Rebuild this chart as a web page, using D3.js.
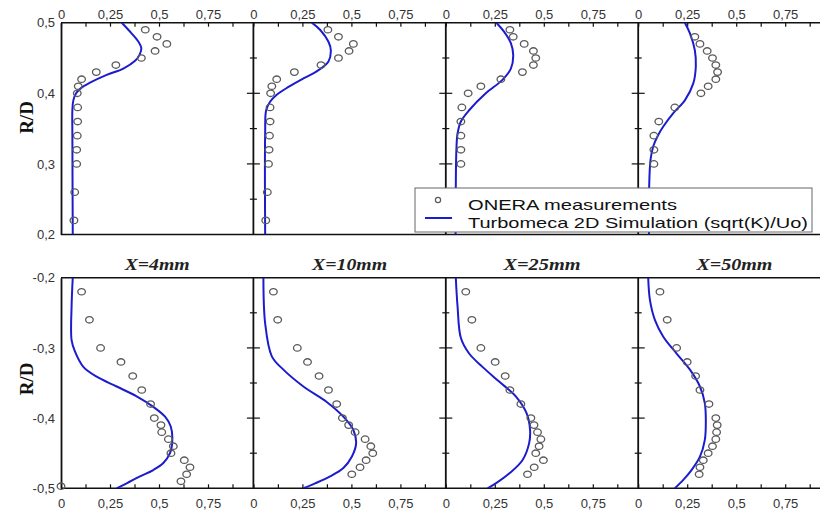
<!DOCTYPE html>
<html><head><meta charset="utf-8">
<script src="https://cdn.jsdelivr.net/npm/d3@7"></script>
<style>body{margin:0;background:#fff}svg{display:block}</style>
</head><body><svg id="c" width="820" height="512"></svg>
<script>
// ---------- DATA ----------
const titles = ["X=4mm", "X=10mm", "X=25mm", "X=50mm"];
const xTickValues = [0, 0.125, 0.25, 0.375, 0.5, 0.625, 0.75, 0.875];
const xTickLabels = {0: "0", 0.25: "0,25", 0.5: "0,5", 0.75: "0,75"};
const yTicksTop = [0.2, 0.3, 0.4, 0.5];
const yTickLabelsTop = ["0,2", "0,3", "0,4", "0,5"];
const yTicksBottom = [-0.5, -0.4, -0.3, -0.2];
const yTickLabelsBottom = ["-0,5", "-0,4", "-0,3", "-0,2"];
const yMinorTop = [0.2, 0.25, 0.3, 0.35, 0.4, 0.45, 0.5];
const yMinorBottom = [-0.5, -0.45, -0.4, -0.35, -0.3, -0.25, -0.2];

// measurements: [sqrt(K)/Uo, R/D]
const measTop4 = [[0.43,0.49],[0.49,0.48],[0.54,0.47],[0.48,0.46],[0.41,0.45],[0.28,0.44],[0.18,0.43],[0.105,0.42],[0.088,0.41],[0.083,0.40],[0.085,0.38],[0.085,0.36],[0.083,0.34],[0.08,0.32],[0.08,0.30],[0.07,0.26],[0.066,0.22]];
const measTop10 = [[0.38,0.49],[0.434,0.48],[0.51,0.47],[0.488,0.46],[0.434,0.45],[0.345,0.44],[0.209,0.43],[0.119,0.42],[0.094,0.41],[0.088,0.40],[0.085,0.38],[0.085,0.36],[0.082,0.34],[0.08,0.32],[0.077,0.30],[0.071,0.26],[0.063,0.22]];
const measTop25 = [[0.327,0.49],[0.344,0.48],[0.40,0.47],[0.447,0.46],[0.459,0.45],[0.447,0.44],[0.391,0.43],[0.281,0.42],[0.179,0.41],[0.114,0.40],[0.082,0.38],[0.077,0.36],[0.077,0.34],[0.077,0.32],[0.077,0.30]];
const measTop50 = [[0.289,0.48],[0.315,0.47],[0.352,0.46],[0.379,0.45],[0.396,0.44],[0.405,0.43],[0.396,0.42],[0.357,0.41],[0.32,0.40],[0.187,0.38],[0.105,0.36],[0.08,0.34],[0.08,0.32],[0.08,0.30]];

const simTop4 = [[0.31,0.5],[0.36,0.485],[0.395,0.473],[0.41,0.464],[0.40,0.454],[0.378,0.446],[0.318,0.435],[0.233,0.426],[0.148,0.415],[0.105,0.408],[0.077,0.40],[0.063,0.39],[0.058,0.376],[0.058,0.343],[0.06,0.2]];
const simTop10 = [[0.298,0.5],[0.34,0.49],[0.383,0.473],[0.395,0.461],[0.383,0.445],[0.323,0.431],[0.255,0.421],[0.179,0.409],[0.119,0.398],[0.085,0.388],[0.065,0.376],[0.06,0.343],[0.06,0.2]];
const simTop25 = [[0.258,0.5],[0.298,0.487],[0.332,0.471],[0.344,0.454],[0.332,0.435],[0.289,0.419],[0.204,0.40],[0.119,0.376],[0.077,0.36],[0.06,0.343],[0.054,0.32],[0.051,0.268],[0.05,0.2]];
const simTop50 = [[0.238,0.5],[0.264,0.485],[0.289,0.461],[0.294,0.438],[0.281,0.414],[0.238,0.39],[0.179,0.372],[0.128,0.353],[0.102,0.341],[0.077,0.325],[0.063,0.306],[0.056,0.268],[0.055,0.2]];

const measBot4 = [[0.105,-0.22],[0.145,-0.26],[0.202,-0.30],[0.306,-0.32],[0.366,-0.34],[0.412,-0.36],[0.457,-0.38],[0.476,-0.40],[0.51,-0.41],[0.514,-0.42],[0.548,-0.43],[0.573,-0.44],[0.561,-0.45],[0.629,-0.46],[0.658,-0.47],[0.641,-0.48],[0.612,-0.49],[0.0,-0.497]];
const measBot10 = [[0.102,-0.22],[0.124,-0.26],[0.224,-0.30],[0.276,-0.32],[0.335,-0.34],[0.383,-0.36],[0.425,-0.38],[0.454,-0.40],[0.486,-0.41],[0.519,-0.42],[0.57,-0.43],[0.599,-0.44],[0.609,-0.45],[0.575,-0.46],[0.544,-0.47],[0.502,-0.48]];
const measBot25 = [[0.102,-0.22],[0.133,-0.26],[0.179,-0.30],[0.252,-0.32],[0.303,-0.34],[0.327,-0.36],[0.383,-0.38],[0.434,-0.40],[0.45,-0.41],[0.468,-0.42],[0.485,-0.43],[0.476,-0.44],[0.459,-0.45],[0.498,-0.46],[0.451,-0.47],[0.417,-0.48]];
const measBot50 = [[0.111,-0.22],[0.148,-0.26],[0.196,-0.30],[0.25,-0.32],[0.293,-0.34],[0.315,-0.36],[0.361,-0.38],[0.396,-0.40],[0.403,-0.41],[0.40,-0.42],[0.396,-0.43],[0.379,-0.44],[0.357,-0.45],[0.332,-0.46],[0.315,-0.47],[0.311,-0.48]];

const simBot4 = [[0.06,-0.2],[0.054,-0.241],[0.054,-0.289],[0.071,-0.305],[0.114,-0.327],[0.182,-0.341],[0.284,-0.355],[0.386,-0.369],[0.471,-0.384],[0.531,-0.398],[0.56,-0.412],[0.568,-0.431],[0.556,-0.45],[0.522,-0.464],[0.471,-0.474],[0.403,-0.483],[0.335,-0.493],[0.284,-0.5]];
const simBot10 = [[0.051,-0.2],[0.06,-0.265],[0.094,-0.312],[0.153,-0.331],[0.255,-0.355],[0.374,-0.377],[0.459,-0.398],[0.51,-0.417],[0.524,-0.436],[0.502,-0.455],[0.459,-0.471],[0.391,-0.483],[0.315,-0.493],[0.255,-0.5]];
const simBot25 = [[0.051,-0.2],[0.06,-0.241],[0.077,-0.286],[0.119,-0.308],[0.187,-0.327],[0.272,-0.348],[0.357,-0.369],[0.412,-0.393],[0.43,-0.417],[0.425,-0.436],[0.391,-0.46],[0.323,-0.479],[0.255,-0.493],[0.213,-0.5]];
const simBot50 = [[0.051,-0.2],[0.06,-0.232],[0.085,-0.26],[0.128,-0.284],[0.196,-0.308],[0.264,-0.331],[0.315,-0.355],[0.34,-0.379],[0.345,-0.403],[0.34,-0.431],[0.315,-0.455],[0.272,-0.474],[0.23,-0.488],[0.187,-0.5]];

const legendLabels = ["ONERA measurements", "Turbomeca 2D Simulation (sqrt(K)/Uo)"];

// ---------- LAYOUT ----------
const svg = d3.select("#c");
const panelLeft0 = 61, panelW = 192.4, unitW = 196; // px per 1.0 of sqrt(K)/Uo
const rows = [
  {top: 22.7, bottom: 234.5, domain: [0.2, 0.5], ticks: yTicksTop, labels: yTickLabelsTop, minor: yMinorTop,
   meas: [measTop4, measTop10, measTop25, measTop50], sim: [simTop4, simTop10, simTop25, simTop50], xAxisTop: true},
  {top: 277.7, bottom: 488.3, domain: [-0.5, -0.2], ticks: yTicksBottom, labels: yTickLabelsBottom, minor: yMinorBottom,
   meas: [measBot4, measBot10, measBot25, measBot50], sim: [simBot4, simBot10, simBot25, simBot50], xAxisTop: false}
];
const blue = "#1c1ccf", ink = "#111", grey = "#5a5a5a";
const defs = svg.append("defs");

rows.forEach((row, ri) => {
  const y = d3.scaleLinear().domain(row.domain).range([row.bottom, row.top]);
  const fullRight = panelLeft0 + 4 * panelW;
  svg.append("line").attr("x1", panelLeft0).attr("x2", fullRight + 20).attr("y1", row.top).attr("y2", row.top)
    .attr("stroke", ink).attr("stroke-width", 1.6);
  svg.append("line").attr("x1", panelLeft0).attr("x2", fullRight + 20).attr("y1", row.bottom).attr("y2", row.bottom)
    .attr("stroke", ink).attr("stroke-width", 1.6);

  for (let p = 0; p < 4; p++) {
    const left = panelLeft0 + p * panelW;
    const x = d3.scaleLinear().domain([0, 1]).range([left, left + unitW]);
    const g = svg.append("g");
    const cid = "clip" + ri + p;
    defs.append("clipPath").attr("id", cid).append("rect")
      .attr("x", left).attr("y", row.top).attr("width", panelW).attr("height", row.bottom - row.top);

    const fmt = v => xTickLabels[v] !== undefined ? xTickLabels[v] : "";
    const ax = (row.xAxisTop ? d3.axisTop(x) : d3.axisBottom(x)).tickValues(xTickValues).tickFormat(fmt)
      .tickSizeInner(-4).tickSizeOuter(0).tickPadding(row.xAxisTop ? 4 : 10);
    const gax = g.append("g").attr("transform", `translate(0,${row.xAxisTop ? row.top : row.bottom})`).call(ax);
    gax.select(".domain").remove();
    gax.selectAll(".tick line").attr("stroke", ink).attr("stroke-width", 1.2);
    gax.selectAll(".tick text").attr("font-family", "Liberation Sans, Arial, sans-serif").attr("font-size", 13).attr("fill", "#333");

    if (p === 0) {
      const ay = d3.axisLeft(y).tickValues(row.ticks).tickFormat((d, i) => row.labels[i]).tickSize(0).tickPadding(6);
      const ga = g.append("g").attr("transform", `translate(${left},0)`).call(ay);
      ga.select(".domain").attr("stroke", ink).attr("stroke-width", 1.8);
      ga.selectAll(".tick text").attr("font-family", "Liberation Sans, Arial, sans-serif").attr("font-size", 13).attr("fill", "#333");
    } else {
      g.append("line").attr("x1", left).attr("x2", left).attr("y1", row.top).attr("y2", row.bottom)
        .attr("stroke", ink).attr("stroke-width", 1.8);
      g.selectAll(".sep").data(row.minor.slice(1, -1)).join("line")
        .attr("x1", d => left - (Math.abs(Math.round(d * 100)) % 10 === 0 ? 6.5 : 3.5))
        .attr("x2", d => left + (Math.abs(Math.round(d * 100)) % 10 === 0 ? 6.5 : 3.5))
        .attr("y1", d => y(d)).attr("y2", d => y(d))
        .attr("stroke", ink).attr("stroke-width", 1.2);
    }

    const line = d3.line().x(d => x(d[0])).y(d => y(d[1])).curve(d3.curveCatmullRom.alpha(0.5));
    g.append("path").datum(row.sim[p]).attr("d", line).attr("fill", "none")
      .attr("stroke", blue).attr("stroke-width", 2).attr("clip-path", `url(#${cid})`);

    g.selectAll(".m").data(row.meas[p]).join("ellipse")
      .attr("cx", d => x(d[0])).attr("cy", d => y(d[1])).attr("rx", 3.8).attr("ry", 3.2)
      .attr("fill", "none").attr("stroke", grey).attr("stroke-width", 1.3);

    if (ri === 1) {
      const tw = [65, 75, 77, 76][p];
      svg.append("text").attr("x", left + panelW / 2 - tw / 2).attr("y", 270)
        .attr("textLength", tw).attr("lengthAdjust", "spacingAndGlyphs")
        .attr("font-family", "Liberation Serif, Times New Roman, serif").attr("font-weight", "bold").attr("font-style", "italic")
        .attr("font-size", 16.5).attr("fill", "#222").text(titles[p]);
    }
  }

  const cy = ri === 0 ? 117.5 : 379;
  svg.append("text").attr("transform", `translate(33,${cy}) rotate(-90)`).attr("text-anchor", "middle")
    .attr("font-family", "Liberation Serif, Times New Roman, serif").attr("font-weight", "bold")
    .attr("font-size", 19).attr("fill", "#111").text("R/D");
});

// ---------- LEGEND ----------
const lg = svg.append("g");
lg.append("rect").attr("x", 415).attr("y", 188).attr("width", 397).attr("height", 44)
  .attr("fill", "#fff").attr("stroke", "#666").attr("stroke-width", 1);
lg.append("circle").attr("cx", 438).attr("cy", 200).attr("r", 2.6).attr("fill", "none").attr("stroke", grey).attr("stroke-width", 1.2);
lg.append("line").attr("x1", 425).attr("x2", 452).attr("y1", 218).attr("y2", 218).attr("stroke", blue).attr("stroke-width", 2);
[[legendLabels[0], 210, 209], [legendLabels[1], 227.5, 340]].forEach(([t, yy, w]) => {
  lg.append("text").attr("x", 468).attr("y", yy).attr("textLength", w).attr("lengthAdjust", "spacingAndGlyphs")
    .attr("font-family", "Liberation Sans, Arial, sans-serif").attr("font-size", 14.5).attr("fill", "#111").text(t);
});
</script>
</body></html>
